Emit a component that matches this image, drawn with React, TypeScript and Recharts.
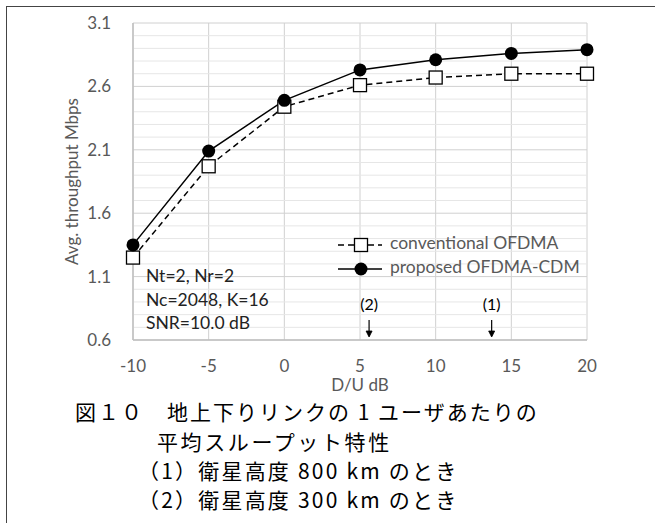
import React from 'react';
import { LineChart, Line, XAxis, YAxis, CartesianGrid, ReferenceLine, ReferenceDot, Legend } from 'recharts';

// D/U [dB] vs 平均スループット [Mbps]
const DU_DB = [-10, -5, 0, 5, 10, 15, 20];
const CONVENTIONAL = [1.25, 1.97, 2.44, 2.61, 2.67, 2.70, 2.70];
const PROPOSED = [1.35, 2.09, 2.49, 2.73, 2.81, 2.86, 2.89];

const X_TICKS = [-10, -5, 0, 5, 10, 15, 20];
const Y_TICKS = [0.6, 1.1, 1.6, 2.1, 2.6, 3.1];

const PARAMS = ['Nt=2, Nr=2', 'Nc=2048, K=16', 'SNR=10.0 dB'];
const MARKS = [
  { label: '(2)', x: 5.6 },
  { label: '(1)', x: 13.7 },
];
const CAPTION = [
  '図１０　地上下りリンクの 1 ユーザあたりの',
  '平均スループット特性',
  '（1）衛星高度 800 km のとき',
  '（2）衛星高度 300 km のとき',
];

const data = DU_DB.map((x, i) => ({ x, conv: CONVENTIONAL[i], prop: PROPOSED[i] }));

// 0.1刻みの補助目盛線
const MINOR_Y: number[] = [];
Y_TICKS.slice(0, -1).forEach((t) => {
  for (let k = 1; k < 5; k++) MINOR_Y.push(Math.round((t + k * 0.1) * 10) / 10);
});

const FONT = 'Lato, "Noto Sans", sans-serif';
const GRAY = '#595959';

const Square = (p: any) => (
  <rect x={p.cx - 6.5} y={p.cy - 6.5} width={13} height={13} fill="#fff" stroke="#000" strokeWidth={1.3} />
);

const Arrow = (p: any) => (
  <g>
    <text x={p.cx} y={p.cy - 34} textAnchor="middle" dominantBaseline="middle" fontSize={16} fontFamily={FONT} fill="#000">
      {p.label}
    </text>
    <line x1={p.cx} y1={p.cy - 20} x2={p.cx} y2={p.cy - 4} stroke="#000" strokeWidth={1.2} />
    <path d={`M${p.cx - 3},${p.cy - 9} L${p.cx},${p.cy - 3} L${p.cx + 3},${p.cy - 9} Z`} fill="#000" stroke="#000" strokeWidth={0.8} />
  </g>
);

const LegendBox = () => (
  <svg width={260} height={56} style={{ overflow: 'visible' }}>
    <g>
      <line x1={3} y1={12} x2={47} y2={12} stroke="#000" strokeWidth={1.5} strokeDasharray="6 4" />
      <rect x={19.5} y={5.5} width={13} height={13} fill="#fff" stroke="#000" strokeWidth={1.3} />
      <text x={55} y={12} dominantBaseline="middle" fontSize={17.5} fontFamily={FONT} fill={GRAY}>conventional OFDMA</text>
    </g>
    <g>
      <line x1={3} y1={36} x2={47} y2={36} stroke="#000" strokeWidth={1.5} />
      <circle cx={26} cy={36} r={6.5} fill="#000" />
      <text x={55} y={36} dominantBaseline="middle" fontSize={17.5} fontFamily={FONT} fill={GRAY}>proposed OFDMA-CDM</text>
    </g>
  </svg>
);

const YLabel = (p: any) => {
  const vb = p.viewBox;
  const cx = 74;
  const cy = vb.y + vb.height / 2;
  return (
    <text x={cx} y={cy} transform={`rotate(-90 ${cx} ${cy})`} textAnchor="middle" dominantBaseline="middle" fontSize={17} fontFamily={FONT} fill={GRAY}>
      Avg. throughput Mbps
    </text>
  );
};

export default function App() {
  return (
    <div style={{ position: 'absolute', left: 0, top: 0, width: 655, height: 523, background: '#fff', overflow: 'hidden' }}>
      <div style={{ position: 'absolute', left: 6, top: 6, width: 700, height: 600, borderLeft: '1.5px solid #444', borderTop: '1.5px solid #444' }} />
      <div style={{ position: 'absolute', left: 0, top: 0 }}>
        <LineChart width={655} height={400} data={data} margin={{ top: 23, right: 68, left: 0, bottom: 10 }}>
          {MINOR_Y.map((v) => (
            <ReferenceLine key={v} y={v} stroke="#e6e6e6" strokeWidth={1} />
          ))}
          <CartesianGrid stroke="#d0d0d0" />
          <XAxis
            dataKey="x"
            type="number"
            domain={[-10, 20]}
            ticks={X_TICKS}
            height={50}
            tickSize={0}
            tickMargin={20}
            axisLine={{ stroke: '#bfbfbf', strokeWidth: 1.5 }}
            tick={{ fill: GRAY, fontSize: 17, fontFamily: FONT }}
            label={{ value: 'D/U dB', position: 'insideBottom', offset: -1, fill: GRAY, fontSize: 17, fontFamily: FONT }}
          />
          <YAxis
            type="number"
            domain={[0.6, 3.1]}
            ticks={Y_TICKS}
            width={133}
            tickSize={0}
            tickMargin={22}
            axisLine={{ stroke: '#bfbfbf', strokeWidth: 1.5 }}
            tickFormatter={(v: number) => v.toFixed(1)}
            tick={{ fill: GRAY, fontSize: 17, fontFamily: FONT }}
            label={{ content: YLabel }}
          />
          {MARKS.map((m) => (
            <ReferenceDot key={m.label} x={m.x} y={0.6} shape={(p: any) => <Arrow {...p} label={m.label} />} />
          ))}
          <Line
            dataKey="conv"
            name="conventional OFDMA"
            stroke="#000"
            strokeWidth={1.5}
            strokeDasharray="6 4"
            dot={Square}
            isAnimationActive={false}
          />
          <Line
            dataKey="prop"
            name="proposed OFDMA-CDM"
            stroke="#000"
            strokeWidth={1.5}
            dot={{ r: 6.5, fill: '#000', stroke: '#000', strokeWidth: 0 }}
            isAnimationActive={false}
          />
          <Legend
            layout="horizontal"
            verticalAlign="middle"
            align="center"
            content={LegendBox}
            wrapperStyle={{ left: 335, top: 233, width: 260, height: 56 }}
          />
        </LineChart>
      </div>
      {PARAMS.map((t, i) => (
        <div key={t} style={{ position: 'absolute', left: 146, top: 264 + i * 23.5, fontFamily: FONT, fontSize: 17.5, color: '#222', lineHeight: '24px', whiteSpace: 'nowrap' }}>
          {t}
        </div>
      ))}
      {CAPTION.map((t, i) => (
        <div
          key={t}
          style={{
            position: 'absolute',
            left: [75, 157, 138, 138][i],
            top: [397, 427, 456, 485][i],
            fontFamily: '"Noto Sans CJK JP", sans-serif',
            fontSize: 21,
            lineHeight: '28px',
            letterSpacing: [2, 2.6, 2.2, 2.2][i],
            color: '#000',
            whiteSpace: 'pre',
          }}
        >
          {t}
        </div>
      ))}
    </div>
  );
}
